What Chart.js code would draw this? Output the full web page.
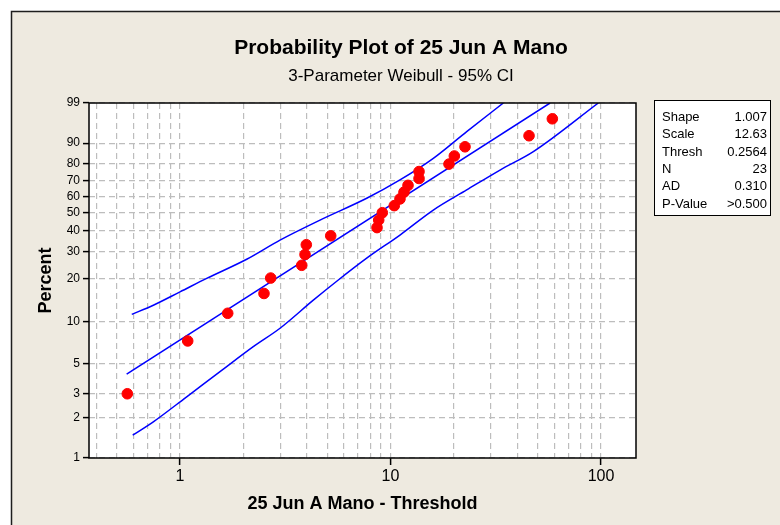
<!DOCTYPE html>
<html>
<head>
<meta charset="utf-8">
<title>Probability Plot of 25 Jun A Mano</title>
<script src="https://cdn.jsdelivr.net/npm/chart.js@4.4.1/dist/chart.umd.min.js"></script>
<style>
  html, body { margin: 0; padding: 0; background: #fff; }
  #wrap { position: relative; width: 780px; height: 525px; }
</style>
</head>
<body>
<div id="wrap"><canvas id="probPlot" width="780" height="525"></canvas></div>
<script>
// ---- data ----
// observed values (data - threshold) and their median-rank percents
const obsX = [0.562, 1.088, 1.685, 2.506, 2.697, 3.786, 3.926, 3.981, 5.200, 8.628, 8.789, 9.141,
              10.42, 11.09, 11.59, 12.11, 13.66, 13.66, 18.96, 20.10, 22.59, 45.50, 58.71];
const obsPct = [3.0, 7.3, 11.5, 15.8, 20.1, 24.4, 28.6, 32.9, 37.2, 41.5, 45.7, 50.0,
                54.3, 58.5, 62.8, 67.1, 71.4, 75.6, 79.9, 84.2, 88.5, 92.7, 97.0];

// fitted line (end points)
const fitX = [0.558, 57.24];
const fitPct = [4.19, 99];

// 95% CI bands
const upperX = [0.590, 0.747, 1.00, 1.339, 2.074, 2.986, 4.626, 7.707, 11.09, 15.97, 23.01, 34.36];
const upperPct = [11.3, 13.1, 16.2, 20.0, 26.7, 35.1, 45.7, 58.9, 70.5, 83.0, 94.0, 99.0];
const lowerX = [0.596, 0.747, 1.076, 1.549, 2.229, 2.986, 4.298, 5.649, 7.707, 11.09, 15.97, 23.01, 33.13, 47.70, 97.1];
const lowerPct = [1.48, 1.86, 2.85, 4.36, 6.63, 9.00, 14.2, 19.5, 27.1, 37.6, 51.6, 64.2, 76.5, 86.3, 99.0];

// axes
const yTicks = [1, 2, 3, 5, 10, 20, 30, 40, 50, 60, 70, 80, 90, 99];
const xGrid = [0.4, 0.5, 0.6, 0.7, 0.8, 0.9, 1, 2, 3, 4, 5, 6, 7, 8, 9, 10, 20, 30, 40, 50, 60, 70, 80, 90, 100];
const xLabels = [1, 10, 100];

// summary table
const statNames = ["Shape", "Scale", "Thresh", "N", "AD", "P-Value"];
const statValues = ["1.007", "12.63", "0.2564", "23", "0.310", ">0.500"];

const FONT = '"Liberation Sans", Arial, sans-serif';
const BEIGE = "#EEEAE0";
const GRID = "#BDBDBD";

// Weibull probability scale: ln(-ln(1-p))
const weib = p => Math.log(-Math.log(1 - p / 100));

class WeibullScale extends Chart.LinearScale {
    getPixelForValue(value) {
        if (value === null || value === undefined) return NaN;
        const lo = weib(this.min), hi = weib(this.max);
        return this.getPixelForDecimal((weib(value) - lo) / (hi - lo));
    }
    getValueForPixel(pixel) {
        const lo = weib(this.min), hi = weib(this.max);
        const w = lo + this.getDecimalForPixel(pixel) * (hi - lo);
        return 100 * (1 - Math.exp(-Math.exp(w)));
    }
}
WeibullScale.id = "weibull";
WeibullScale.defaults = Chart.LinearScale.defaults;
Chart.register(WeibullScale);

const toPoints = (xs, ys) => xs.map((x, i) => ({ x: x, y: ys[i] }));

// backdrop, frame, titles and stats box
const decorations = {
    id: "decorations",
    beforeDraw(chart) {
        const { ctx, chartArea: a } = chart;
        ctx.save();
        ctx.fillStyle = "#fff";
        ctx.fillRect(0, 0, chart.width, chart.height);
        ctx.fillStyle = BEIGE;
        ctx.fillRect(11, 11, chart.width - 11, chart.height - 11);
        ctx.strokeStyle = "#1e1e1e";
        ctx.lineWidth = 1.5;
        ctx.beginPath();
        ctx.moveTo(11.5, chart.height);
        ctx.lineTo(11.5, 11.5);
        ctx.lineTo(chart.width, 11.5);
        ctx.stroke();
        ctx.fillStyle = "#fff";
        ctx.fillRect(a.left, a.top, a.right - a.left, a.bottom - a.top);
        ctx.restore();
    },
    afterDraw(chart) {
        const { ctx, chartArea: a } = chart;
        ctx.save();
        // plot frame
        ctx.strokeStyle = "#000";
        ctx.lineWidth = 1.5;
        ctx.strokeRect(a.left, a.top, a.right - a.left, a.bottom - a.top);

        // titles
        ctx.fillStyle = "#000";
        ctx.textAlign = "center";
        ctx.textBaseline = "alphabetic";
        ctx.font = "bold 21px " + FONT;
        ctx.fillText("Probability Plot of 25 Jun A Mano", 401, 54);
        ctx.font = "17px " + FONT;
        ctx.fillText("3-Parameter Weibull - 95% CI", 401, 81);

        // axis titles
        ctx.font = "bold 18px " + FONT;
        ctx.fillText("25 Jun A Mano - Threshold", (a.left + a.right) / 2, 509);
        ctx.save();
        ctx.translate(46, (a.top + a.bottom) / 2);
        ctx.rotate(-Math.PI / 2);
        ctx.textBaseline = "middle";
        ctx.fillText("Percent", 0, 0);
        ctx.restore();

        // stats box
        ctx.fillStyle = "#fff";
        ctx.fillRect(654, 100, 117, 115);
        ctx.strokeStyle = "#000";
        ctx.lineWidth = 1;
        ctx.strokeRect(654.5, 100.5, 116, 115);
        ctx.fillStyle = "#000";
        ctx.font = "13px " + FONT;
        ctx.textBaseline = "middle";
        statNames.forEach((name, i) => {
            const y = 117.5 + i * 17.3;
            ctx.textAlign = "left";
            ctx.fillText(name, 662, y);
            ctx.textAlign = "right";
            ctx.fillText(statValues[i], 767, y);
        });
        ctx.restore();
    }
};

function renderPlot() {
    new Chart(document.getElementById("probPlot"), {
        type: "scatter",
        data: {
            datasets: [
                {
                    label: "25 Jun A Mano",
                    data: toPoints(obsX, obsPct),
                    backgroundColor: "#FF0000",
                    borderColor: "#FF0000",
                    pointRadius: 5.3,
                    showLine: false
                },
                {
                    label: "Fit",
                    data: toPoints(fitX, fitPct),
                    showLine: true,
                    borderColor: "#0000FF",
                    borderWidth: 1.5,
                    pointRadius: 0
                },
                {
                    label: "Upper CI",
                    data: toPoints(upperX, upperPct),
                    showLine: true,
                    borderColor: "#0000FF",
                    borderWidth: 1.5,
                    pointRadius: 0,
                    cubicInterpolationMode: "monotone"
                },
                {
                    label: "Lower CI",
                    data: toPoints(lowerX, lowerPct),
                    showLine: true,
                    borderColor: "#0000FF",
                    borderWidth: 1.5,
                    pointRadius: 0,
                    cubicInterpolationMode: "monotone"
                }
            ]
        },
        options: {
            responsive: false,
            animation: false,
            events: [],
            layout: { padding: { top: 103, right: 144, bottom: 27, left: 0 } },
            plugins: {
                legend: { display: false },
                tooltip: { enabled: false }
            },
            scales: {
                x: {
                    type: "logarithmic",
                    min: 0.3696,
                    max: 146.6,
                    afterBuildTicks: s => { s.ticks = xGrid.map(v => ({ value: v })); },
                    afterFit: s => { s.height = 40; },
                    ticks: {
                        autoSkip: false,
                        maxRotation: 0,
                        padding: 2,
                        color: "#000",
                        font: { family: FONT, size: 16 },
                        callback: v => xLabels.includes(v) ? String(v) : ""
                    },
                    grid: {
                        color: GRID,
                        lineWidth: 1.2,
                        tickLength: 7,
                        tickWidth: 1.5,
                        tickColor: c => (c.tick && xLabels.includes(c.tick.value)) ? "#000" : "rgba(0,0,0,0)"
                    },
                    border: { display: false, dash: [6, 4] }
                },
                y: {
                    type: "weibull",
                    position: "left",
                    min: 1,
                    max: 99,
                    afterBuildTicks: s => { s.ticks = yTicks.map(v => ({ value: v })); },
                    afterFit: s => { s.width = 89; },
                    ticks: {
                        autoSkip: false,
                        padding: 3,
                        color: "#000",
                        font: { family: FONT, size: 12 },
                        callback: v => String(v)
                    },
                    grid: {
                        color: GRID,
                        lineWidth: 1.2,
                        tickLength: 6,
                        tickWidth: 1.5,
                        tickColor: "#000"
                    },
                    border: { display: false, dash: [6, 4] }
                }
            }
        },
        plugins: [decorations]
    });
}

document.addEventListener("DOMContentLoaded", renderPlot);
</script>
</body>
</html>
